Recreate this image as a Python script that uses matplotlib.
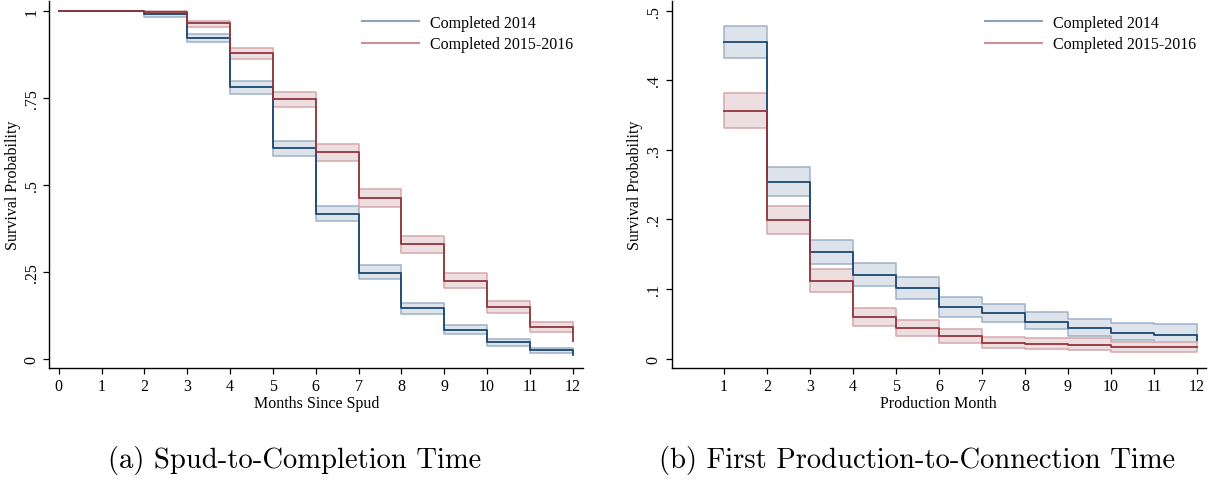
import matplotlib.pyplot as plt
from matplotlib.lines import Line2D

plt.rcParams['font.family'] = ['Liberation Serif', 'DejaVu Serif']

# panel (a): spud-to-completion
months_a = [0, 1, 2, 3, 4, 5, 6, 7, 8, 9, 10, 11, 12]
s14_a = [1.0, 1.0, 0.990, 0.921, 0.780, 0.604, 0.415, 0.247, 0.144, 0.083, 0.047, 0.024, 0.010]
lo14_a = [1.0, 1.0, 0.982, 0.909, 0.761, 0.582, 0.394, 0.228, 0.128, 0.071, 0.037, 0.017, 0.017]
hi14_a = [1.0, 1.0, 0.995, 0.933, 0.799, 0.626, 0.439, 0.268, 0.160, 0.096, 0.055, 0.031, 0.031]
s15_a = [1.0, 1.0, 0.995, 0.964, 0.879, 0.745, 0.593, 0.462, 0.329, 0.224, 0.149, 0.090, 0.050]
lo15_a = [1.0, 1.0, 0.990, 0.952, 0.862, 0.723, 0.567, 0.437, 0.304, 0.203, 0.131, 0.075, 0.075]
hi15_a = [1.0, 1.0, 1.000, 0.971, 0.893, 0.766, 0.616, 0.486, 0.353, 0.246, 0.166, 0.105, 0.105]

# panel (b): first production-to-connection
months_b = [1, 2, 3, 4, 5, 6, 7, 8, 9, 10, 11, 12]
s14_b = [0.455, 0.254, 0.153, 0.120, 0.101, 0.074, 0.065, 0.053, 0.044, 0.037, 0.034, 0.027]
lo14_b = [0.432, 0.234, 0.136, 0.104, 0.086, 0.060, 0.053, 0.042, 0.032, 0.026, 0.023, 0.023]
hi14_b = [0.478, 0.275, 0.171, 0.137, 0.117, 0.088, 0.079, 0.067, 0.057, 0.051, 0.049, 0.049]
s15_b = [0.356, 0.199, 0.112, 0.059, 0.044, 0.032, 0.022, 0.021, 0.020, 0.016, 0.016, 0.016]
lo15_b = [0.332, 0.179, 0.096, 0.047, 0.033, 0.023, 0.015, 0.014, 0.012, 0.010, 0.010, 0.010]
hi15_b = [0.381, 0.219, 0.129, 0.073, 0.055, 0.042, 0.031, 0.029, 0.029, 0.024, 0.024, 0.024]

labels = ['Completed 2014', 'Completed 2015-2016']
blue, blue_ci, blue_edge = '#1a476f', '#dde3ea', '#9fb1c6'
red, red_ci, red_edge = '#90353b', '#eddfe1', '#d6a7ac'

fig = plt.figure(figsize=(12.13, 4.81), dpi=100)
ax1 = fig.add_axes([0.0408, 0.233, 0.4398, 0.763])
ax2 = fig.add_axes([0.5536, 0.233, 0.4406, 0.763])


def draw(ax, t, series):
    for s, lo, hi, c, cf, ce in series:
        ax.fill_between(t, lo, hi, step='post', facecolor=cf, edgecolor=ce, lw=1.1)
    for s, lo, hi, c, cf, ce in series:
        ax.step(t, s, where='post', color=c, lw=1.3)
    for sp in ['top', 'right']:
        ax.spines[sp].set_visible(False)
    ax.spines['left'].set_linewidth(1.0)
    ax.spines['bottom'].set_linewidth(1.0)
    ax.tick_params(direction='out', length=4, width=0.9, labelsize=11.5, pad=3)


draw(ax1, months_a, [(s14_a, lo14_a, hi14_a, blue, blue_ci, blue_edge),
                     (s15_a, lo15_a, hi15_a, red, red_ci, red_edge)])
ax1.set_xlim(-0.215, 12.24)
ax1.set_ylim(-0.027, 1.028)
ax1.set_xticks(months_a)
ax1.set_yticks([0, 0.25, 0.5, 0.75, 1])
ax1.set_yticklabels(['0', '.25', '.5', '.75', '1'], rotation=90, va='center')
ax1.set_xlabel('Months Since Spud', fontsize=11.5, labelpad=1)
ax1.set_ylabel('Survival Probability', fontsize=11.5, labelpad=2)

draw(ax2, months_b, [(s14_b, lo14_b, hi14_b, blue, blue_ci, blue_edge),
                     (s15_b, lo15_b, hi15_b, red, red_ci, red_edge)])
ax2.set_xlim(-0.22, 12.21)
ax2.set_ylim(-0.0135, 0.514)
ax2.set_xticks(months_b)
ax2.set_yticks([0, 0.1, 0.2, 0.3, 0.4, 0.5])
ax2.set_yticklabels(['0', '.1', '.2', '.3', '.4', '.5'], rotation=90, va='center')
ax2.set_xlabel('Production Month', fontsize=11.5, labelpad=1)
ax2.set_ylabel('Survival Probability', fontsize=11.5, labelpad=2)

handles = [Line2D([], [], color='#8ea2bb', lw=1.5), Line2D([], [], color='#cf8d94', lw=1.5)]
for ax, x in [(ax1, 0.2984), (ax2, 0.812)]:
    ax.legend(handles, labels, loc='upper left', bbox_to_anchor=(x, 0.967),
              bbox_transform=fig.transFigure, frameon=False, fontsize=11.5,
              handlelength=3.6, handletextpad=0.65, labelspacing=0.35,
              borderpad=0, borderaxespad=0)

fig.text(0.243, 0.027, '(a) Spud-to-Completion Time', family='cmr10', fontsize=20.6, ha='center')
fig.text(0.756, 0.027, '(b) First Production-to-Connection Time', family='cmr10', fontsize=20.6, ha='center')

fig.savefig('out.png', dpi=100)
